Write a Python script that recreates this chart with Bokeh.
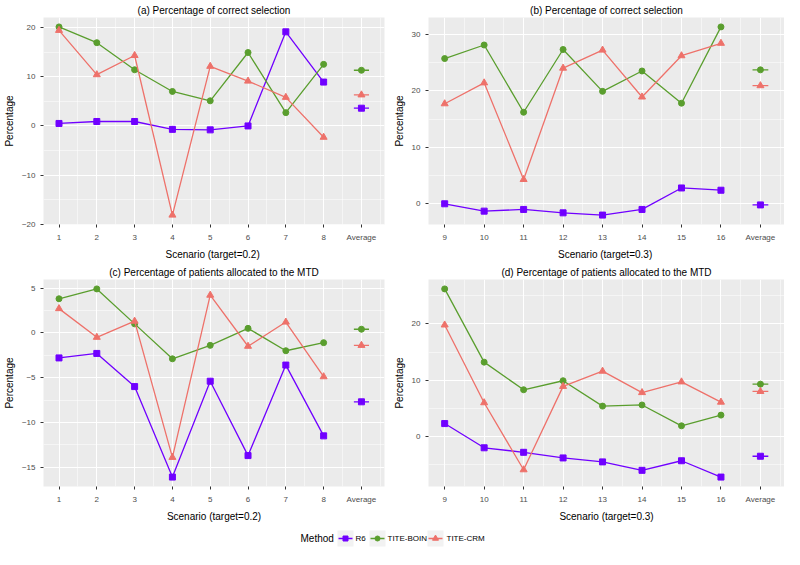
from bokeh.plotting import figure
from bokeh.layouts import column, row
from bokeh.models import Range1d, FixedTicker
from bokeh.embed import file_html
from bokeh.resources import INLINE
from bokeh.core.properties import value

FONT = "Liberation Sans"

methods = ["R6", "TITE-BOIN", "TITE-CRM"]
colors = {"R6": "#7000FF", "TITE-BOIN": "#5A9E2E", "TITE-CRM": "#EE716A"}
markers = {"R6": "square", "TITE-BOIN": "circle", "TITE-CRM": "triangle"}
msizes = {"R6": 6, "TITE-BOIN": 6, "TITE-CRM": 7}

scen_a = [1, 2, 3, 4, 5, 6, 7, 8]
scen_b = [9, 10, 11, 12, 13, 14, 15, 16]
avg_pos_a = 9
avg_pos_b = 17
xlabels_a = ["1", "2", "3", "4", "5", "6", "7", "8", "Average"]
xlabels_b = ["9", "10", "11", "12", "13", "14", "15", "16", "Average"]

# (a) correct selection, target 0.2
a_r6 = [0.5, 0.9, 0.9, -0.7, -0.8, 0.0, 19.1, 8.9]
a_boin = [20.1, 16.9, 11.4, 7.0, 5.1, 14.9, 2.7, 12.5]
a_crm = [19.4, 10.4, 14.3, -18.1, 12.1, 9.1, 5.8, -2.3]
a_avg = [3.6, 11.3, 6.3]

# (b) correct selection, target 0.3
b_r6 = [0.0, -1.3, -1.0, -1.6, -2.0, -1.0, 2.8, 2.4]
b_boin = [25.7, 28.1, 16.2, 27.3, 19.9, 23.5, 17.8, 31.3]
b_crm = [17.7, 21.4, 4.3, 24.0, 27.2, 18.9, 26.2, 28.4]
b_avg = [-0.2, 23.7, 20.9]

# (c) patients allocated to MTD, target 0.2
c_r6 = [-2.8, -2.3, -6.0, -16.1, -5.4, -13.7, -3.6, -11.5]
c_boin = [3.8, 4.9, 1.0, -2.9, -1.4, 0.5, -2.0, -1.1]
c_crm = [2.7, -0.5, 1.3, -13.9, 4.2, -1.5, 1.2, -4.9]
c_avg = [-7.7, 0.4, -1.4]

# (d) patients allocated to MTD, target 0.3
d_r6 = [2.3, -2.0, -2.8, -3.8, -4.5, -6.0, -4.3, -7.2]
d_boin = [26.2, 13.2, 8.3, 9.9, 5.4, 5.6, 1.9, 3.8]
d_crm = [19.8, 6.0, -5.9, 8.9, 11.6, 7.8, 9.7, 6.1]
d_avg = [-3.5, 9.3, 8.0]

yticks_a = [-20, -10, 0, 10, 20]
yminor_a = [-15, -5, 5, 15]
yticks_b = [0, 10, 20, 30]
yminor_b = [-5, 5, 15, 25]
yticks_c = [-15, -10, -5, 0, 5]
yminor_c = [-12.5, -7.5, -2.5, 2.5]
yticks_d = [0, 10, 20]
yminor_d = [-5, 5, 15, 25]


def panel(title, xlab, scen, series, avgs, avg_x, xlabels, yticks, yminor,
          width, height, left, right):
    allv = [v for s in series for v in s] + list(avgs)
    lo, hi = min(allv), max(allv)
    pad = 0.05 * (hi - lo)
    xlo, xhi = scen[0], avg_x + 0.2
    xpad = 0.05 * (xhi - xlo)
    p = figure(width=width, height=height, output_backend="svg", toolbar_location=None,
               x_range=Range1d(xlo - xpad, xhi + xpad), y_range=Range1d(lo - pad, hi + pad),
               title=title, min_border_left=left, min_border_right=right,
               min_border_top=0, min_border_bottom=0)
    p.background_fill_color = "#EBEBEB"
    p.border_fill_color = "white"
    p.outline_line_color = None
    p.title.align = "center"
    p.title.text_font = FONT
    p.title.text_font_size = "10px"
    p.title.text_font_style = "normal"
    p.title.text_color = "black"
    p.title.standoff = 4

    xt = list(scen) + [avg_x]
    xminor = [x + 0.5 for x in xt]
    p.xaxis.ticker = FixedTicker(ticks=xt, minor_ticks=xminor)
    p.xaxis.major_label_overrides = {x: lab for x, lab in zip(xt, xlabels)}
    p.yaxis.ticker = FixedTicker(ticks=yticks, minor_ticks=yminor)
    for ax in (p.xaxis, p.yaxis):
        ax.axis_line_color = None
        ax.major_tick_line_color = "#333333"
        ax.major_tick_out = 3
        ax.major_tick_in = 0
        ax.minor_tick_line_color = None
        ax.major_label_text_font = FONT
        ax.major_label_text_font_size = "8px"
        ax.major_label_text_color = "#4D4D4D"
        ax.major_label_standoff = 4
        ax.axis_label_text_font = FONT
        ax.axis_label_text_font_size = "10px"
        ax.axis_label_text_font_style = "normal"
        ax.axis_label_text_color = "black"
        ax.axis_label_standoff = 4
    p.xaxis.axis_label = xlab
    p.yaxis.axis_label = "Percentage"
    for g in (p.xgrid, p.ygrid):
        g.grid_line_color = "white"
        g.grid_line_width = 1.1
        g.minor_grid_line_color = "white"
        g.minor_grid_line_width = 0.5

    for m, ys, av in zip(methods, series, avgs):
        c = colors[m]
        p.line(scen, ys, line_color=c, line_width=1.3)
        p.scatter(scen, ys, marker=markers[m], size=msizes[m], fill_color=c, line_color=c)
        p.segment(x0=[avg_x - 0.2], x1=[avg_x + 0.2], y0=[av], y1=[av], line_color=c, line_width=1.3)
        p.scatter([avg_x], [av], marker=markers[m], size=msizes[m], fill_color=c, line_color=c)
    return p


H = 262
pa = panel("(a) Percentage of correct selection", "Scenario  (target=0.2)", scen_a,
           [a_r6, a_boin, a_crm], a_avg, avg_pos_a, xlabels_a, yticks_a, yminor_a,
           390, H, 33, 6)
pb = panel("(b) Percentage of correct selection", "Scenario  (target=0.3)", scen_b,
           [b_r6, b_boin, b_crm], b_avg, avg_pos_b, xlabels_b, yticks_b, yminor_b,
           394, H, 36, 0)
pc = panel("(c) Percentage of patients allocated to the MTD", "Scenario (target=0.2)", scen_a,
           [c_r6, c_boin, c_crm], c_avg, avg_pos_a, xlabels_a, yticks_c, yminor_c,
           390, H, 33, 6)
pd = panel("(d) Percentage of patients allocated to the MTD", "Scenario (target=0.3)", scen_b,
           [d_r6, d_boin, d_crm], d_avg, avg_pos_b, xlabels_b, yticks_d, yminor_d,
           394, H, 36, 0)

# legend strip
LW, LH = 784, 25
leg = figure(width=LW, height=LH, output_backend="svg", toolbar_location=None,
             x_range=Range1d(0, LW), y_range=Range1d(0, LH),
             min_border=0)
leg.axis.visible = False
leg.grid.visible = False
leg.outline_line_color = None
leg.background_fill_color = "white"
leg.border_fill_color = "white"
ly = 11
leg.text(x=[300], y=[ly], text=["Method"], text_font=value(FONT), text_font_size="10px",
         text_baseline="middle", text_align="left", text_color="black")
key_x = [345, 377, 435]
lab_x = [355, 387, 446]
for m, kx, tx in zip(methods, key_x, lab_x):
    c = colors[m]
    leg.rect(x=[kx], y=[ly], width=16, height=16, fill_color="#F2F2F2", line_color=None)
    leg.segment(x0=[kx - 7], x1=[kx + 7], y0=[ly], y1=[ly], line_color=c, line_width=1.3)
    leg.scatter([kx], [ly], marker=markers[m], size=msizes[m] - 1, fill_color=c, line_color=c)
    leg.text(x=[tx], y=[ly], text=[m], text_font=value(FONT), text_font_size="8px",
             text_baseline="middle", text_align="left", text_color="black")

layout = column(row(pa, pb), row(pc, pd), leg)
open("out.html", "w").write(file_html(layout, INLINE))
